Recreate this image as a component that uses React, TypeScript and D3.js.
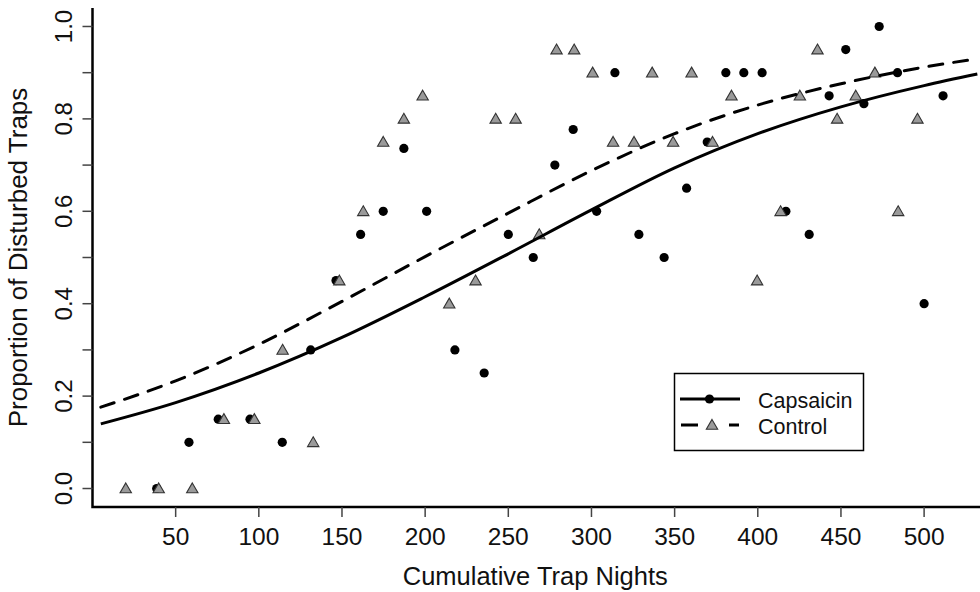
import React, { useEffect, useRef } from 'react';
import * as d3 from 'd3';

// Capsaicin (filled circles)
const capX = [38.6, 58, 75.6, 94.7, 114.1, 131.2, 146.4, 161.2, 174.8, 187.2, 200.9, 217.9, 235.5, 250, 265, 278, 289, 303.1, 314.1, 328.5, 343.7, 357.2, 369.6, 380.8, 391.6, 402.6, 416.9, 430.9, 442.9, 452.9, 463.8, 473, 484, 500, 511.4];
const capY = [0, 0.1, 0.15, 0.15, 0.1, 0.3, 0.45, 0.55, 0.6, 0.736, 0.6, 0.3, 0.25, 0.55, 0.5, 0.7, 0.777, 0.6, 0.9, 0.55, 0.5, 0.65, 0.75, 0.9, 0.9, 0.9, 0.6, 0.55, 0.85, 0.95, 0.833, 1.0, 0.9, 0.4, 0.85];

// Control (grey triangles)
const ctrlX = [20, 39.8, 60, 79, 97.3, 114.3, 132.7, 148.4, 162.8, 174.8, 187.2, 198.5, 214.5, 230.3, 242.4, 254.4, 268.6, 279, 289.6, 300.7, 313, 325.6, 336.5, 349.1, 360.2, 372.8, 384.2, 399.6, 413.7, 425.3, 435.9, 447.7, 458.9, 470.4, 484.4, 496];
const ctrlY = [0, 0, 0, 0.15, 0.15, 0.3, 0.1, 0.45, 0.6, 0.75, 0.8, 0.85, 0.4, 0.45, 0.8, 0.8, 0.55, 0.95, 0.95, 0.9, 0.75, 0.75, 0.9, 0.75, 0.9, 0.75, 0.85, 0.45, 0.6, 0.85, 0.95, 0.8, 0.85, 0.9, 0.6, 0.8];

// fitted curves
const fitX = [5, 50, 100, 150, 200, 250, 300, 350, 400, 450, 500, 532];
const capFit = [0.14, 0.186, 0.25, 0.327, 0.415, 0.508, 0.603, 0.694, 0.768, 0.826, 0.872, 0.897];
const ctrlFit = [0.176, 0.233, 0.312, 0.405, 0.502, 0.596, 0.688, 0.768, 0.83, 0.876, 0.912, 0.93];

const xTicks = [50, 100, 150, 200, 250, 300, 350, 400, 450, 500];
const yTicks = [0, 0.1, 0.2, 0.3, 0.4, 0.5, 0.6, 0.7, 0.8, 0.9, 1.0];
const yLabels = [0, 0.2, 0.4, 0.6, 0.8, 1.0];

const FONT = "'Liberation Sans', Arial, Helvetica, sans-serif";

const App = () => {
    const svgRef = useRef(null);

    useEffect(() => {
        const svg = d3.select(svgRef.current);
        svg.selectAll('*').remove();

        const left = 92.5, right = 978, top = 8, bottom = 507;
        const x = d3.scaleLinear().domain([0, 532.4]).range([left, right]);
        const y = d3.scaleLinear().domain([-0.04, 1.04]).range([bottom, top]);

        // axis lines (L shaped box)
        svg.append('path')
            .attr('d', `M${left},${top}V${bottom}H${980}`)
            .attr('fill', 'none')
            .attr('stroke', '#000')
            .attr('stroke-width', 2.5);

        // y ticks
        svg.selectAll('.ytick').data(yTicks).enter().append('line')
            .attr('x1', left - 10).attr('x2', left)
            .attr('y1', d => y(d)).attr('y2', d => y(d))
            .attr('stroke', '#444').attr('stroke-width', 1.5);
        svg.selectAll('.ylab').data(yLabels).enter().append('text')
            .attr('transform', d => `translate(72,${y(d)}) rotate(-90)`)
            .attr('text-anchor', 'middle')
            .style('font-family', FONT).style('font-size', '24px').attr('fill', '#111')
            .text(d => d.toFixed(1));

        // x ticks
        svg.selectAll('.xtick').data(xTicks).enter().append('line')
            .attr('x1', d => x(d)).attr('x2', d => x(d))
            .attr('y1', bottom).attr('y2', bottom + 10)
            .attr('stroke', '#444').attr('stroke-width', 1.5);
        svg.selectAll('.xlab').data(xTicks).enter().append('text')
            .attr('x', d => x(d)).attr('y', 545)
            .attr('text-anchor', 'middle')
            .style('font-family', FONT).style('font-size', '24.5px').attr('fill', '#111')
            .text(d => d);

        // axis titles
        svg.append('text')
            .attr('x', (left + right) / 2).attr('y', 585)
            .attr('text-anchor', 'middle')
            .style('font-family', FONT).style('font-size', '25.5px').attr('fill', '#111')
            .text('Cumulative Trap Nights');
        svg.append('text')
            .attr('transform', `translate(27,${(top + bottom) / 2}) rotate(-90)`)
            .attr('text-anchor', 'middle')
            .style('font-family', FONT).style('font-size', '26px').attr('fill', '#111')
            .text('Proportion of Disturbed Traps');

        const tri = d3.symbol().type(d3.symbolTriangle).size(56);

        // points
        svg.selectAll('.cap').data(capX).enter().append('circle')
            .attr('cx', d => x(d)).attr('cy', (d, i) => y(capY[i]))
            .attr('r', 4.6).attr('fill', '#000');
        svg.selectAll('.ctrl').data(ctrlX).enter().append('path')
            .attr('d', tri)
            .attr('transform', (d, i) => `translate(${x(d)},${y(ctrlY[i]) + 1})`)
            .attr('fill', '#9a9a9a').attr('stroke', '#333').attr('stroke-width', 1.1);

        // fitted curves
        const line = d3.line().curve(d3.curveMonotoneX);
        svg.append('path')
            .attr('d', line(fitX.map((d, i) => [x(d), y(capFit[i])])))
            .attr('fill', 'none').attr('stroke', '#000').attr('stroke-width', 3);
        svg.append('path')
            .attr('d', line(fitX.map((d, i) => [x(d), y(ctrlFit[i])])))
            .attr('fill', 'none').attr('stroke', '#000').attr('stroke-width', 3)
            .attr('stroke-dasharray', '14,11').attr('stroke-linecap', 'round');

        // legend
        const lg = svg.append('g');
        lg.append('rect')
            .attr('x', 674.5).attr('y', 373.5).attr('width', 189).attr('height', 77)
            .attr('fill', '#fff').attr('stroke', '#000').attr('stroke-width', 1.5);
        lg.append('line').attr('x1', 680).attr('x2', 740).attr('y1', 399).attr('y2', 399)
            .attr('stroke', '#000').attr('stroke-width', 3);
        lg.append('circle').attr('cx', 709.5).attr('cy', 399).attr('r', 4.6).attr('fill', '#000');
        lg.append('line').attr('x1', 681).attr('x2', 739).attr('y1', 425).attr('y2', 425)
            .attr('stroke', '#000').attr('stroke-width', 3)
            .attr('stroke-dasharray', '17,31,10');
        lg.append('path').attr('d', tri).attr('transform', 'translate(712,426)')
            .attr('fill', '#9a9a9a').attr('stroke', '#333').attr('stroke-width', 1.1);
        lg.append('text').attr('x', 758).attr('y', 407.5)
            .style('font-family', FONT).style('font-size', '21.5px').attr('fill', '#111')
            .text('Capsaicin');
        lg.append('text').attr('x', 758).attr('y', 433.5)
            .style('font-family', FONT).style('font-size', '21.5px').attr('fill', '#111')
            .text('Control');
    }, []);

    return (
        <svg ref={svgRef} width={980} height={592}
            style={{ position: 'absolute', left: 0, top: 0, background: '#fff' }} />
    );
};

export default App;
